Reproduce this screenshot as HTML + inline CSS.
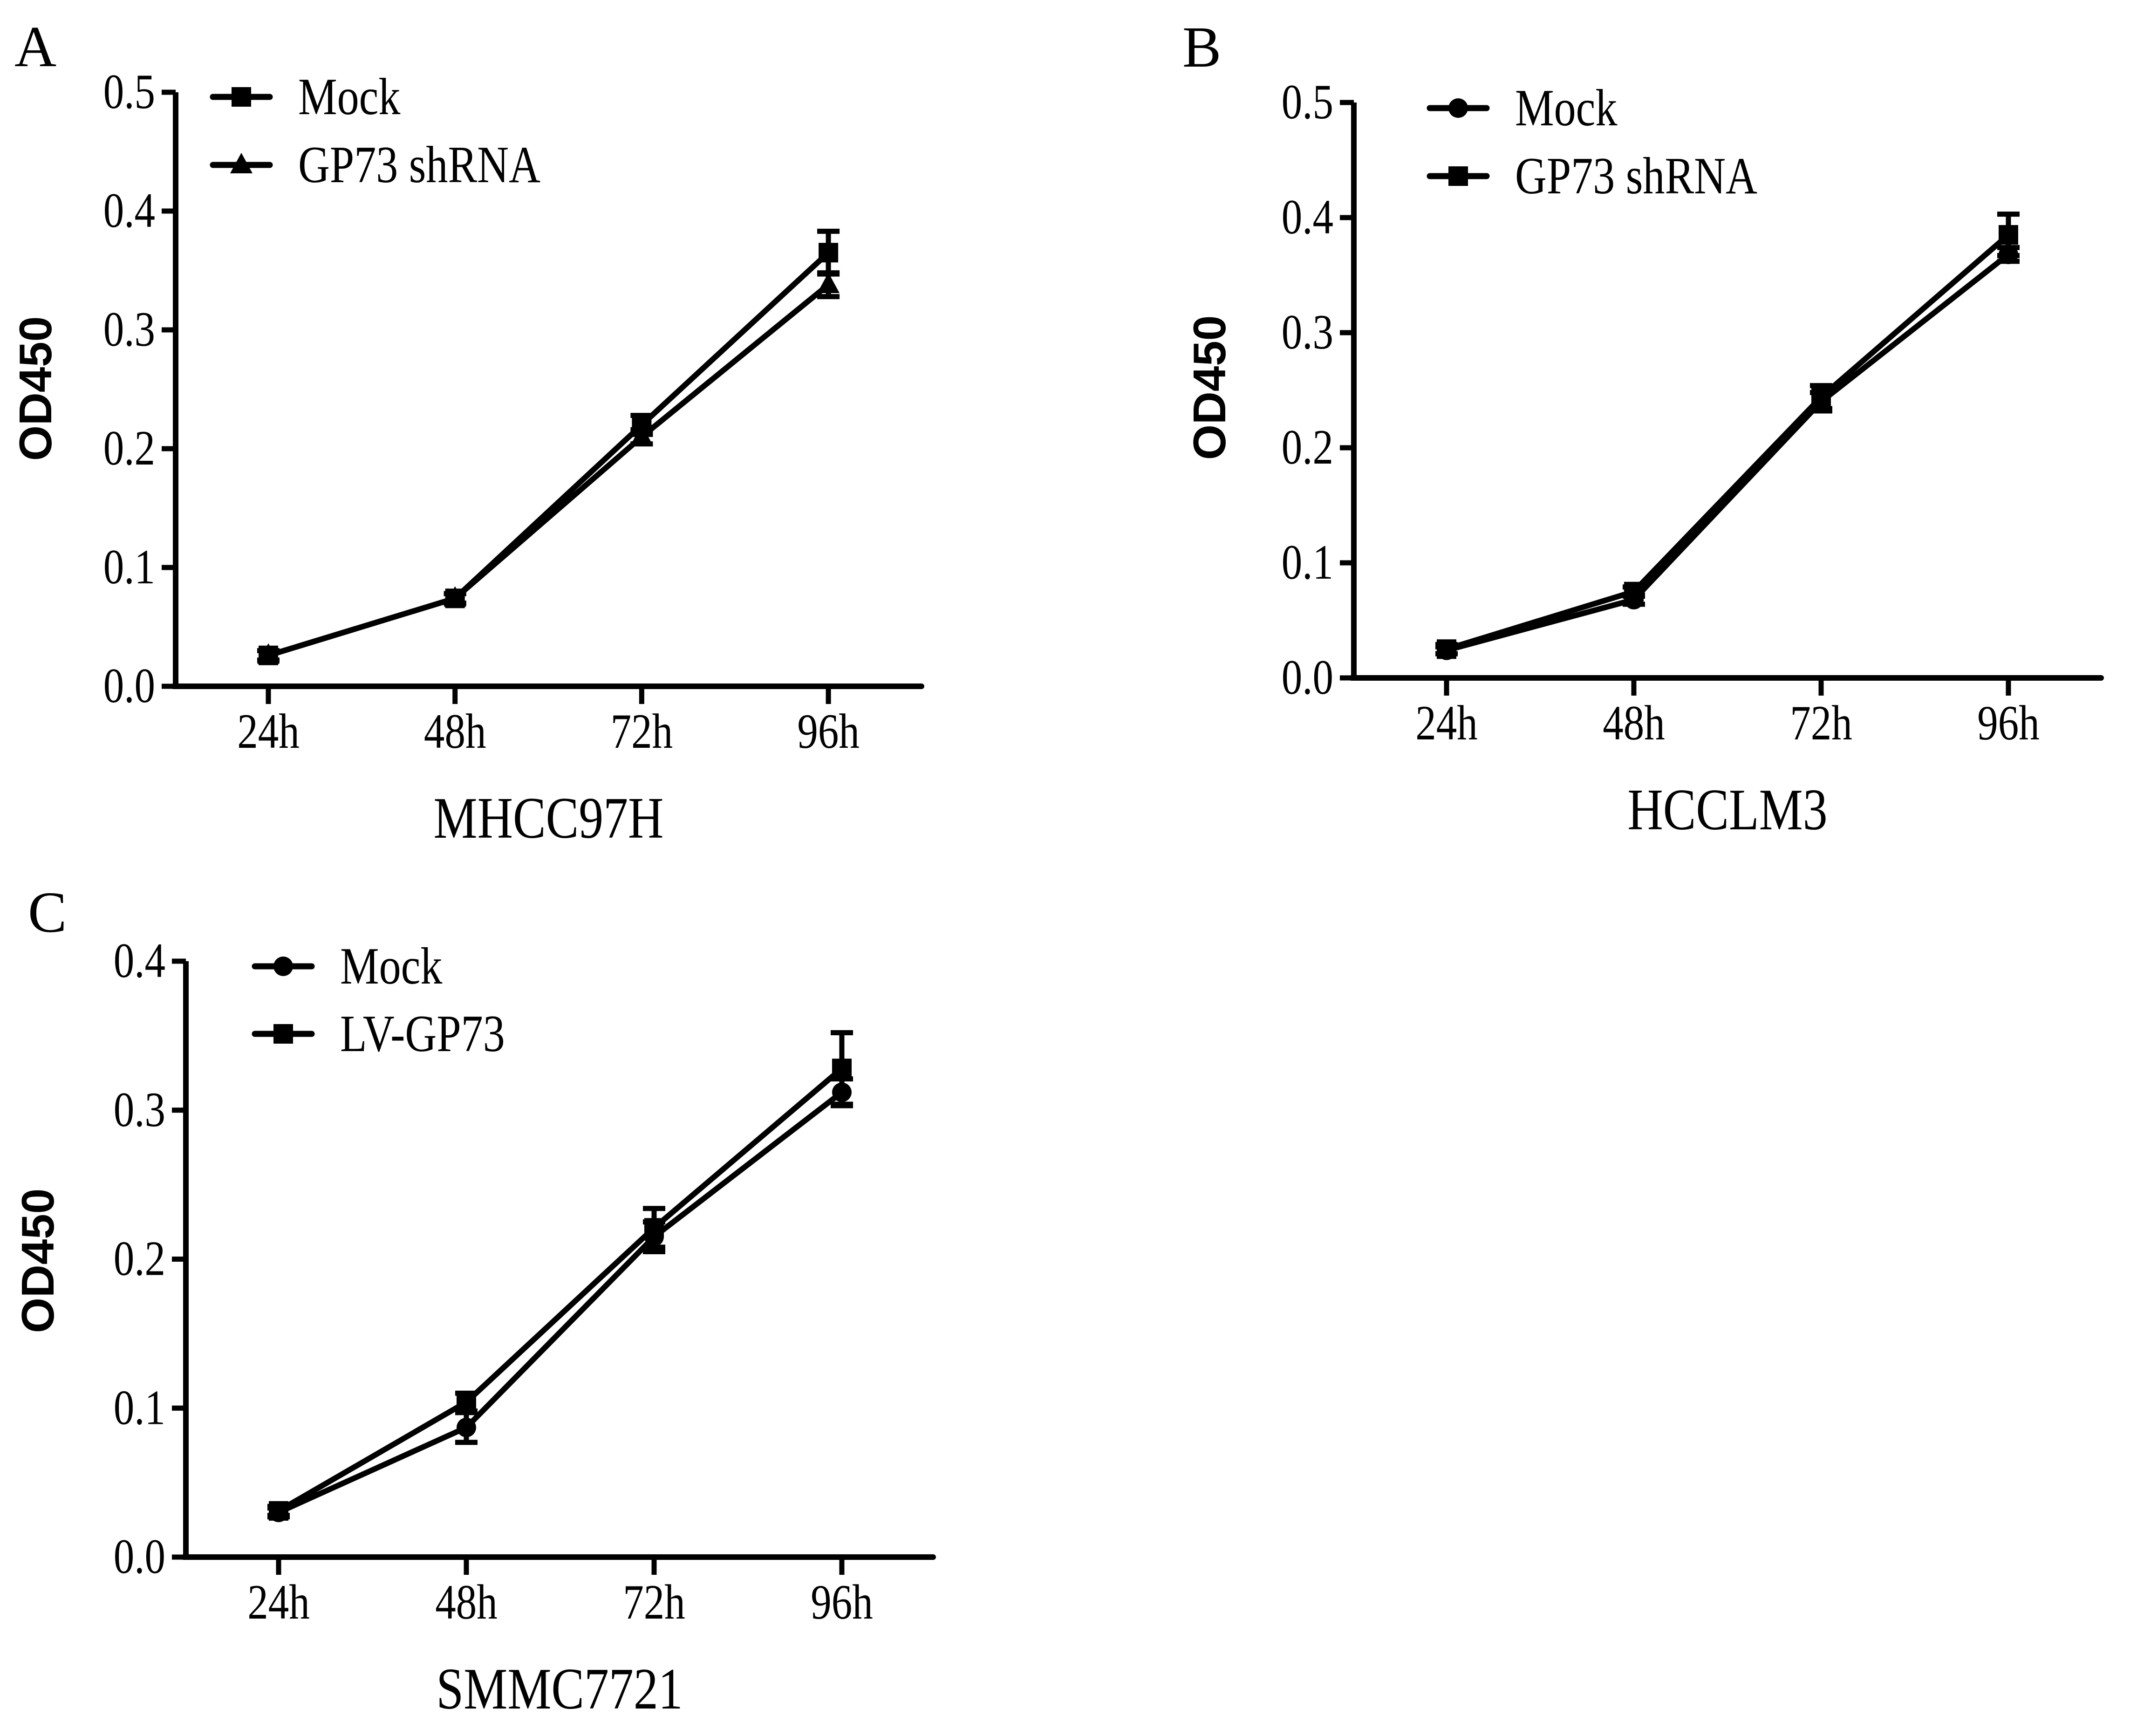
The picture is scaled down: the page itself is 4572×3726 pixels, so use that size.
<!DOCTYPE html>
<html><head><meta charset="utf-8"><style>
html,body{margin:0;padding:0;background:#fff;}
svg{display:block;}
text{font-family:"Liberation Serif",serif;fill:#000;}
</style></head><body>
<svg id="fig" width="4572" height="3726" viewBox="0 0 4572 3726" xmlns="http://www.w3.org/2000/svg"></svg>
<script>
const categories = ["24h","48h","72h","96h"];
const yTicksAB = [0.0,0.1,0.2,0.3,0.4,0.5];
const yTicksC = [0.0,0.1,0.2,0.3,0.4];
const aMock = [0.026,0.074,0.220,0.365];
const aMockErr = [0.004,0.004,0.008,0.018];
const aShrna = [0.026,0.074,0.210,0.338];
const aShrnaErr = [0.004,0.004,0.006,0.010];
const bMock = [0.024,0.068,0.240,0.368];
const bMockErr = [0.003,0.004,0.008,0.006];
const bShrna = [0.025,0.075,0.244,0.385];
const bShrnaErr = [0.004,0.004,0.010,0.018];
const cMock = [0.030,0.087,0.215,0.312];
const cMockErr = [0.003,0.010,0.010,0.009];
const cLv = [0.031,0.104,0.221,0.328];
const cLvErr = [0.003,0.006,0.013,0.024];

const NS="http://www.w3.org/2000/svg";
const svg=document.getElementById('fig');
function mk(tag,attrs,parent){const e=document.createElementNS(NS,tag);for(const k in attrs)e.setAttribute(k,attrs[k]);(parent||svg).appendChild(e);return e;}
function txt(s,attrs,parent,sx){
  const a=Object.assign({},attrs);
  const x=a.x,y=a.y;delete a.x;delete a.y;
  a.x=0;a.y=0;
  a.transform=`translate(${x},${y}) scale(${sx||0.84},1)`;
  const e=mk('text',a,parent);e.textContent=s;return e;}

function marker(g,shape,x,y){
  let m;
  if(shape==='square'){m=mk('rect',{x:x-21,y:y-21,width:42,height:42,fill:'#000'},g);}
  else if(shape==='circle'){m=mk('circle',{cx:x,cy:y,r:21,fill:'#000'},g);}
  else {m=mk('polygon',{points:`${x},${y-26} ${x+24},${y+18} ${x-24},${y+18}`,fill:'#000'},g);}
  return m;
}

function panel(cfg){
  const g=mk('g',{});
  
  
  const yMax=cfg.ticks[cfg.ticks.length-1];
  const ys=v=>cfg.y0-(v/yMax)*(cfg.y0-cfg.yTop);
  const xs=i=>cfg.cx0+i*cfg.step;
  const L=txt(cfg.letter,{x:cfg.letterX,y:cfg.letterY,'font-size':125},g,1);
  
  
  const ya=mk('line',{x1:cfg.ax,y1:cfg.yTop,x2:cfg.ax,y2:cfg.y0+5,stroke:'#000','stroke-width':12},g);
  
  
  const xa=mk('line',{x1:cfg.ax-5,y1:cfg.y0,x2:cfg.xEnd,y2:cfg.y0,stroke:'#000','stroke-width':12,'stroke-linecap':'round'},g);
  
  
  cfg.ticks.forEach(t=>{
    const y=ys(t);
    mk('line',{x1:cfg.ax-30,y1:y,x2:cfg.ax,y2:y,stroke:'#000','stroke-width':11},g);
    const tl=txt(t.toFixed(1),{x:cfg.ax-44,y:y+34,'font-size':106,'text-anchor':'end'},g);
    
    
  });
  categories.forEach((c,i)=>{
    const x=xs(i);
    mk('line',{x1:x,y1:cfg.y0,x2:x,y2:cfg.y0+38,stroke:'#000','stroke-width':11},g);
    const tl=txt(c,{x:x,y:cfg.y0+132,'font-size':106,'text-anchor':'middle'},g);
    
    
  });
  const xt=txt(cfg.xTitle,{x:(cfg.ax+cfg.xEnd)/2,y:cfg.y0+325,'font-size':126,'text-anchor':'middle'},g);
  
  
  const yt=mk('text',{x:0,y:0,'font-size':98,'font-weight':'bold','text-anchor':'middle',style:'font-family:"Liberation Sans",sans-serif',transform:`translate(${cfg.yTitleX},${cfg.yTitleY}) rotate(-90)`},g);
  yt.textContent='OD450';
  
  
  cfg.series.forEach((s,si)=>{
    const sg=mk('g',{},g);
    
    
    const pts=s.vals.map((v,i)=>xs(i)+','+ys(v)).join(' ');
    const pl=mk('polyline',{points:pts,fill:'none',stroke:'#000','stroke-width':12,'stroke-linejoin':'round'},sg);
    
    
    s.vals.forEach((v,i)=>{
      const x=xs(i),e=s.err[i];
      const eb=mk('path',{d:`M${x},${ys(v+e)}V${ys(v-e)}M${x-24},${ys(v+e)}H${x+24}M${x-24},${ys(v-e)}H${x+24}`,stroke:'#000','stroke-width':11,fill:'none'},sg);
      
      
      const m=marker(sg,s.shape,x,ys(v));
      
      
    });
    const ly=cfg.legY[si];
    const lg=mk('g',{},g);
    
    
    mk('line',{x1:cfg.legX0,y1:ly,x2:cfg.legX0+122,y2:ly,stroke:'#000','stroke-width':13,'stroke-linecap':'round'},lg);
    marker(lg,s.shape,cfg.legX0+61,ly);
    const lt=txt(s.label,{x:cfg.legX0+183,y:ly+37,'font-size':112},lg);
    
    
  });
}

panel({name:'panel-a',letter:'A',letterX:31,letterY:142,ax:377,yTop:198,y0:1473,ticks:yTicksAB,cx0:576,step:400.7,xEnd:1978,
  xTitle:'MHCC97H',yTitleX:110,yTitleY:834,legX0:457,legY:[208,354],
  series:[{key:'mock',label:'Mock',vals:aMock,err:aMockErr,shape:'square'},
          {key:'gp73-shrna',label:'GP73 shRNA',vals:aShrna,err:aShrnaErr,shape:'triangle'}]});
panel({name:'panel-b',letter:'B',letterX:2538,letterY:143,ax:2906,yTop:220,y0:1455,ticks:yTicksAB,cx0:3105,step:402,xEnd:4510,
  xTitle:'HCCLM3',yTitleX:2630,yTitleY:832,legX0:3069,legY:[232,378],
  series:[{key:'mock',label:'Mock',vals:bMock,err:bMockErr,shape:'circle'},
          {key:'gp73-shrna',label:'GP73 shRNA',vals:bShrna,err:bShrnaErr,shape:'square'}]});
panel({name:'panel-c',letter:'C',letterX:60,letterY:2000,ax:399,yTop:2063,y0:3342,ticks:yTicksC,cx0:598,step:403,xEnd:2003,
  xTitle:'SMMC7721',yTitleX:115,yTitleY:2706,legX0:547,legY:[2074,2219],
  series:[{key:'mock',label:'Mock',vals:cMock,err:cMockErr,shape:'circle'},
          {key:'lv-gp73',label:'LV-GP73',vals:cLv,err:cLvErr,shape:'square'}]});
</script>
</body></html>
